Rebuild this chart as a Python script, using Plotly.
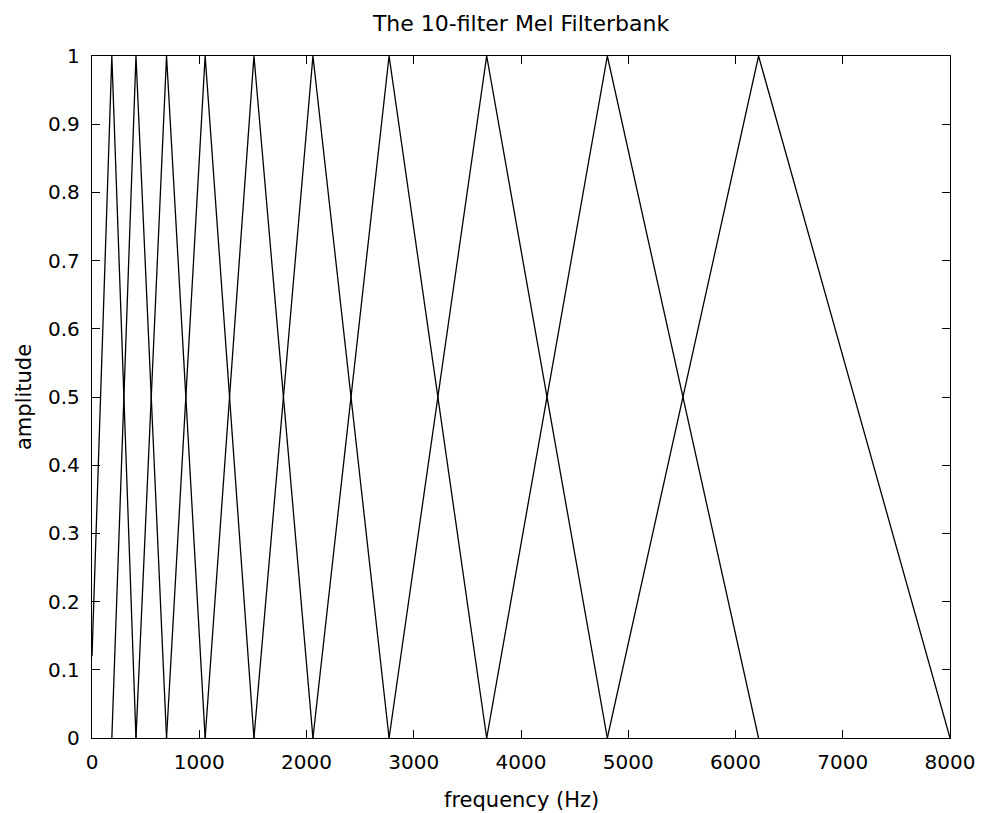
import plotly.graph_objects as go

# Filter vertices (Hz)
lower_edges = [0, 185, 410, 695, 1055, 1510, 2060, 2770, 3680, 4805]
centers = [185, 410, 695, 1055, 1510, 2060, 2770, 3680, 4805, 6215]
upper_edges = [410, 695, 1055, 1510, 2060, 2770, 3680, 4805, 6215, 8000]
# amplitude at the lower edge (first filter starts above 0 at 0 Hz)
start_amps = [0.12, 0, 0, 0, 0, 0, 0, 0, 0, 0]
peak_amp = 1.0
end_amp = 0.0

x_ticks = [0, 1000, 2000, 3000, 4000, 5000, 6000, 7000, 8000]
y_ticks = [0, 0.1, 0.2, 0.3, 0.4, 0.5, 0.6, 0.7, 0.8, 0.9, 1]
y_tick_text = ["0", "0.1", "0.2", "0.3", "0.4", "0.5", "0.6", "0.7", "0.8", "0.9", "1"]

fig = go.Figure()
for lo, c, hi, a0 in zip(lower_edges, centers, upper_edges, start_amps):
    fig.add_trace(go.Scatter(
        x=[lo, c, hi], y=[a0, peak_amp, end_amp], mode="lines",
        line=dict(color="black", width=1.3), showlegend=False, hoverinfo="skip"))

FONT = "DejaVu Sans, Arial, sans-serif"
axis_common = dict(
    showgrid=False, zeroline=False, showline=True, linecolor="black", linewidth=1.3,
    mirror="ticks", ticks="inside", ticklen=8, tickwidth=1.3, tickcolor="black",
    tickfont=dict(family=FONT, size=20, color="black"),
)

fig.update_layout(
    width=987, height=813,
    margin=dict(l=92, r=31, t=56, b=75),
    paper_bgcolor="white", plot_bgcolor="white",
    title=dict(text="The 10-filter Mel Filterbank", x=0.5, xref="paper",
               y=1 - 23 / 813, yref="container", yanchor="middle", xanchor="center",
               font=dict(family=FONT, size=22, color="black")),
    xaxis=dict(range=[0, 8000], tickvals=x_ticks, ticktext=[str(v) for v in x_ticks],
               ticklabelstandoff=6, **axis_common),
    yaxis=dict(range=[0, 1], tickvals=y_ticks, ticktext=y_tick_text,
               ticklabelstandoff=7, **axis_common),
    annotations=[
        dict(text="frequency (Hz)", xref="paper", yref="paper", x=0.5, y=0,
             yshift=-62, showarrow=False, yanchor="middle", xanchor="center",
             font=dict(family=FONT, size=21, color="black")),
        dict(text="amplitude", xref="paper", yref="paper", x=0, y=0.5,
             xshift=-68, showarrow=False, textangle=-90, xanchor="center", yanchor="middle",
             font=dict(family=FONT, size=21, color="black")),
    ],
)

fig.write_html(
    "out.html",
    config={"displayModeBar": False},
    post_script="document.body.style.margin='0';document.body.style.overflow='hidden';",
)
